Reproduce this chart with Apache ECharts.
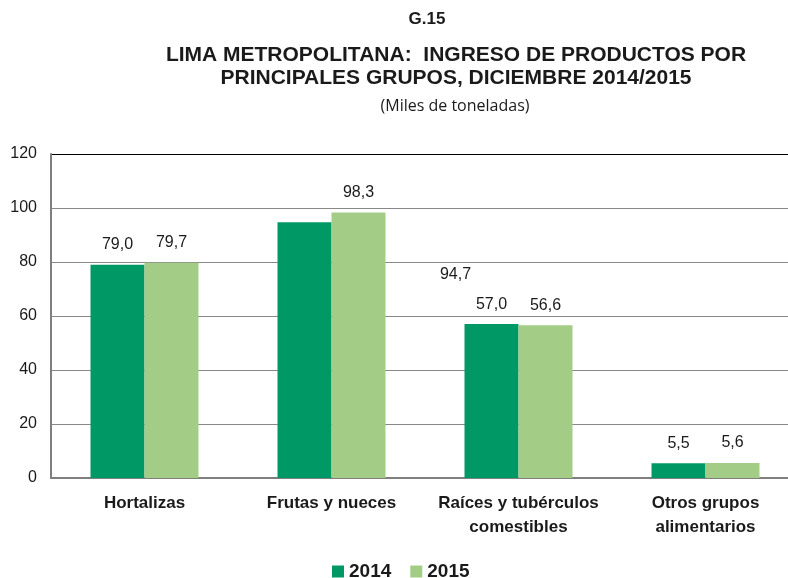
<!DOCTYPE html>
<html>
	<head>
		<meta charset="utf-8" />
		<title>G.15</title>
		<style type="text/css">
			body{ margin:0; background:#fff; overflow:hidden; }
			#chart{ width:799px; height:578px; }
		</style>
		<script src="https://cdn.jsdelivr.net/npm/echarts@6/dist/echarts.min.js" type="text/javascript" charset="utf-8"></script>
	</head>
	<body>
		<div id="chart"></div>
		<script type="text/javascript">
			var categories = ['Hortalizas', 'Frutas y nueces', 'Raíces y tubérculos\ncomestibles', 'Otros grupos\nalimentarios'];
			var years = ['2014', '2015'];
			var data2014 = [79.0, 94.7, 57.0, 5.5];
			var data2015 = [79.7, 98.3, 56.6, 5.6];
			var yTicks = [0, 20, 40, 60, 80, 100, 120];

			function fmt(v){
				return v.toFixed(1).replace('.', ',');
			}

			var myChart = echarts.init(document.getElementById('chart'));
			var lbl = {
				show: true,
				position: 'top',
				distance: 12,
				color: '#1a1a1a',
				fontSize: 16,
				fontFamily: 'Liberation Sans',
				formatter: function(p){ return fmt(p.value); }
			};
			// la etiqueta 94,7 esta desplazada en el original
			var d14 = data2014.map(function(v, i){
				if (i === 1) return { value: v, label: { offset: [151, 72] } };
				return v;
			});
			var option = {
				animation: false,
				title: [
					{ text: 'G.15', left: 422, top: 6, textAlign: 'center',
					  textStyle: { fontSize: 17, fontWeight: 'bold', color: '#1a1a1a', fontFamily: 'Liberation Sans' } },
					{ text: 'LIMA METROPOLITANA:  INGRESO DE PRODUCTOS POR\nPRINCIPALES GRUPOS, DICIEMBRE 2014/2015', left: 451, top: 39, textAlign: 'center',
					  textStyle: { fontSize: 21, fontWeight: 'bold', color: '#1a1a1a', fontFamily: 'Liberation Sans', lineHeight: 23 } },
					{ text: '(Miles de toneladas)', left: 450, top: 93, textAlign: 'center',
					  textStyle: { fontSize: 16, fontWeight: 'normal', color: '#1a1a1a', fontFamily: 'Open Sans' } }
				],
				legend: {
					data: years,
					top: 557,
					left: 327,
					itemWidth: 12,
					itemHeight: 12,
					itemGap: 19,
					icon: 'rect',
					textStyle: { fontSize: 19, fontWeight: 'bold', color: '#1a1a1a', fontFamily: 'Liberation Sans' }
				},
				grid: { left: 51, right: 0, top: 154, bottom: 100, containLabel: false },
				xAxis: {
					type: 'category',
					data: categories,
					axisLine: { lineStyle: { color: '#7f7f7f', width: 2 } },
					axisTick: { show: false },
					axisLabel: { interval: 0, fontSize: 17, fontWeight: 'bold', color: '#1a1a1a', fontFamily: 'Liberation Sans', lineHeight: 24, margin: 13 }
				},
				yAxis: {
					type: 'value',
					min: yTicks[0],
					max: yTicks[yTicks.length - 1],
					interval: 20,
					axisLine: { show: true, lineStyle: { color: '#7f7f7f', width: 2 } },
					axisTick: { show: false },
					axisLabel: { fontSize: 16, color: '#1a1a1a', fontFamily: 'Liberation Sans', margin: 14 },
					splitLine: { lineStyle: { color: ['#888', '#888', '#888', '#888', '#888', '#888', '#000'], width: 1 } }
				},
				series: [
					{ name: years[0], type: 'bar', data: d14, barWidth: 54, barGap: '0%', itemStyle: { color: '#009966' }, label: lbl },
					{ name: years[1], type: 'bar', data: data2015, barWidth: 54, barGap: '0%', itemStyle: { color: '#a3cd86' }, label: lbl }
				]
			};
			myChart.setOption(option);
		</script>
	</body>
</html>
